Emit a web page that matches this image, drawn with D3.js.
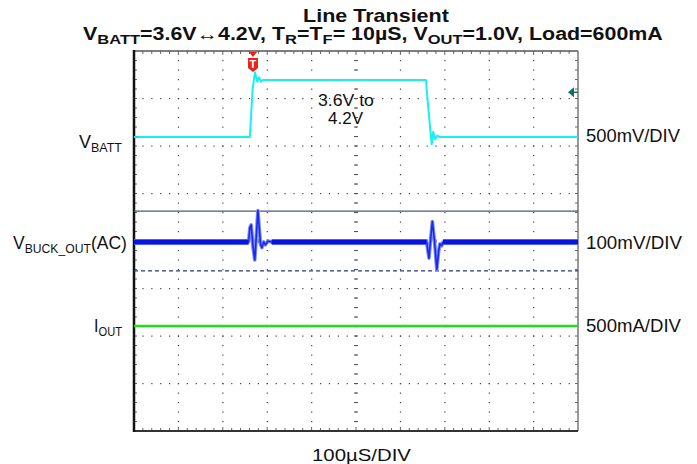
<!DOCTYPE html>
<html><head><meta charset="utf-8">
<script src="https://cdn.jsdelivr.net/npm/d3@7"></script>
<style>body{margin:0;background:#fff}svg{display:block}text{font-family:"Liberation Sans",Arial,sans-serif;fill:#111}</style>
</head><body>
<script>
// ---- data (time in µs, 100 µs/div) ----
const timeDomain = [0, 1000];
// V_BATT (V) 500 mV/div
const vbattT = [0, 100, 200, 261, 264, 267, 270, 272.5, 275, 277.7, 280, 282, 284, 286, 290, 295, 400, 500, 600, 657.6, 662, 666.7, 670.5, 674, 678, 683, 688, 695, 800, 900, 1000];
const vbattV = [3.6, 3.6, 3.6, 3.6, 3.85, 4.095, 4.2, 4.281, 4.23, 4.182, 4.21, 4.228, 4.2, 4.182, 4.2, 4.2, 4.2, 4.2, 4.2, 4.2, 3.95, 3.708, 3.523, 3.656, 3.576, 3.614, 3.6, 3.6, 3.6, 3.6, 3.6];
// V_BUCK_OUT AC (mV) 100 mV/div
const vbuckT = [0, 100, 200, 258, 261, 264, 268, 272, 276, 279, 282, 285, 288, 292, 296, 302, 310, 400, 500, 600, 659, 664.4, 668, 672, 677, 682, 686, 689, 693, 696, 800, 900, 1000];
const vbuckV = [0, 0, 0, 0, 30, 36, -10, -38, 20, 66, 30, -5, -12, 0, -6, 2, 0, 0, 0, 0, 0, -34, 5, 43, 0, -58, -20, -4, -8, 0, 0, 0, 0];
// I_OUT (mA) 500 mA/div
const ioutT = [0, 250, 500, 750, 1000];
const ioutV = [600, 600, 600, 600, 600];
// cursors on V_BUCK_OUT (mV)
const cursorSolid = 65;
const cursorDashed = -61;
const triggerTime = 268;     // µs
const triggerLevel = 4.07;   // V on V_BATT
// labels
const titleText = "Line Transient";
const chLabels = [["V","BATT",""],["V","BUCK_OUT","(AC)"],["I","OUT",""]];
const scaleLabels = ["500mV/DIV", "100mV/DIV", "500mA/DIV"];
const timeLabel = "100µS/DIV";
const noteLines = ["3.6V to", "4.2V"];

// ---- layout ----
const W = 697, H = 464;
const L = 134, R = 578, T = 51, B = 431;
const svg = d3.select("body").append("svg").attr("width", W).attr("height", H);

const x = d3.scaleLinear().domain(timeDomain).range([L, R]);
const yDiv = d3.scaleLinear().domain([0, 8]).range([B, T]);
function chScale(refVal, refDiv, perDiv) {
  return d3.scaleLinear().domain([refVal - refDiv * perDiv, refVal + (8 - refDiv) * perDiv]).range([B, T]);
}
const yBatt = chScale(3.6, 6.19, 0.5);
const yBuck = chScale(0, 3.98, 100);
const yIout = chScale(600, 2.21, 500);

const g = svg.append("g");
const xDivs = d3.range(0, 11).map(i => L + i * (R - L) / 10);
const yDivs = d3.range(0, 9).map(i => yDiv(i));
const mx = (R - L) / 50, my = (B - T) / 40;

// dotted grid lines
for (let i = 1; i < 10; i++) {
  for (let k = 1; k < 40; k++) {
    g.append("rect").attr("x", xDivs[i] - 0.5).attr("y", T + k * my - 0.5).attr("width", 1.2).attr("height", 1.2).attr("fill", "#444");
  }
}
for (let j = 1; j < 8; j++) {
  for (let k = 1; k < 50; k++) {
    g.append("rect").attr("x", L + k * mx - 0.5).attr("y", yDivs[j] - 0.5).attr("width", 1.2).attr("height", 1.2).attr("fill", "#444");
  }
}
// centre axes ticks
const cx = xDivs[5], cy = yDiv(4);
for (let k = 1; k < 50; k++) g.append("line").attr("x1", L + k * mx).attr("x2", L + k * mx).attr("y1", cy - 2).attr("y2", cy + 2).attr("stroke", "#555").attr("stroke-width", 1);
for (let k = 1; k < 40; k++) g.append("line").attr("y1", T + k * my).attr("y2", T + k * my).attr("x1", cx - 2).attr("x2", cx + 2).attr("stroke", "#555").attr("stroke-width", 1);
// border ticks
for (let k = 1; k < 50; k++) {
  const xx = L + k * mx, len = (k % 5 === 0) ? 4 : 3;
  g.append("line").attr("x1", xx).attr("x2", xx).attr("y1", T).attr("y2", T + len).attr("stroke", "#666");
  g.append("line").attr("x1", xx).attr("x2", xx).attr("y1", B).attr("y2", B - len).attr("stroke", "#666");
}
for (let k = 1; k < 40; k++) {
  const yy = T + k * my;
  g.append("line").attr("x1", L).attr("x2", L + 3).attr("y1", yy).attr("y2", yy).attr("stroke", "#666");
  g.append("line").attr("x1", R).attr("x2", R - 3).attr("y1", yy).attr("y2", yy).attr("stroke", "#666");
}
// frame
g.append("line").attr("x1", L).attr("x2", R).attr("y1", T).attr("y2", T).attr("stroke", "#555").attr("stroke-width", 1.5);
g.append("line").attr("x1", R).attr("x2", R).attr("y1", T).attr("y2", B).attr("stroke", "#777").attr("stroke-width", 1.5);
g.append("line").attr("x1", L).attr("x2", R).attr("y1", B).attr("y2", B).attr("stroke", "#333").attr("stroke-width", 2);
g.append("line").attr("x1", L).attr("x2", L).attr("y1", T - 1).attr("y2", B + 1).attr("stroke", "#111").attr("stroke-width", 2.5);

// cursors
g.append("line").attr("x1", L).attr("x2", R).attr("y1", yBuck(cursorSolid)).attr("y2", yBuck(cursorSolid)).attr("stroke", "#4a5784").attr("stroke-width", 1.3);
g.append("line").attr("x1", L).attr("x2", R).attr("y1", yBuck(cursorDashed)).attr("y2", yBuck(cursorDashed)).attr("stroke", "#2c3a78").attr("stroke-width", 1.3).attr("stroke-dasharray", "4,3");

// traces
function trace(ts, vs, ys, color, w, halo, defined) {
  const pts = ts.map((t, i) => [t, vs[i]]);
  const line = d3.line().x(d => x(d[0])).y(d => ys(d[1]));
  if (defined) line.defined(defined);
  if (halo) svg.append("path").attr("d", line(pts)).attr("fill", "none").attr("stroke", halo).attr("stroke-width", w + 2).attr("stroke-linejoin", "round");
  svg.append("path").attr("d", line(pts)).attr("fill", "none").attr("stroke", color).attr("stroke-width", w).attr("stroke-linejoin", "round");
}
trace(ioutT, ioutV, yIout, "#1ee01e", 2.5, null);
// V_BUCK: thin full trace plus thick noise band on the quiet parts
trace(vbuckT, vbuckV, yBuck, "#1a28f0", 1.6, "#7c8cf6");
trace(vbuckT, vbuckV, yBuck, "#0a14e0", 4, "#4d60f2", d => d[1] === 0);
trace(vbattT, vbattV, yBatt, "#18f0f0", 2, null);

// left channel markers
[[yBatt(3.6), "#18d8e0"], [yBuck(0), "#0a14e6"], [yIout(600), "#1ee01e"]].forEach(([yy, c]) => {
  svg.append("line").attr("x1", L + 1).attr("x2", L + 5).attr("y1", yy).attr("y2", yy).attr("stroke", c).attr("stroke-width", 2);
});

// trigger marker
const tx = x(triggerTime);
svg.append("path").attr("d", `M${tx - 4},${T + 1}L${tx + 4},${T + 1}L${tx},${T + 6}Z`).attr("fill", "#e8231a");
svg.append("path").attr("d", `M${tx - 5},${T + 7}L${tx + 5},${T + 7}L${tx + 5},${T + 17}L${tx},${T + 21}L${tx - 5},${T + 17}Z`).attr("fill", "#e8231a");
svg.append("text").attr("x", tx).attr("y", T + 17).attr("text-anchor", "middle").attr("font-size", 11).attr("font-weight", "bold").style("fill", "#fff").text("T");
// trigger level marker
const ty = yBatt(triggerLevel);
svg.append("path").attr("d", `M${R - 10},${ty}L${R - 4},${ty - 5}L${R - 4},${ty + 5}Z`).attr("fill", "#136c6c");
svg.append("line").attr("x1", R - 5).attr("x2", R).attr("y1", ty).attr("y2", ty).attr("stroke", "#136c6c").attr("stroke-width", 1.5);

// ---- text helper: fit to measured extent ----
function fitText(parts, x0, x1, baseline, size, bold, subSize) {
  const t = svg.append("text").attr("transform", `translate(${x0},${baseline})`).attr("font-size", size).attr("font-weight", bold ? "bold" : "normal");
  let shifted = false;
  parts.forEach(p => {
    const sp = t.append("tspan").text(p.s);
    if (p.sub && !shifted) { sp.attr("dy", 4).attr("font-size", subSize); shifted = true; }
    else if (p.sub) { sp.attr("font-size", subSize); }
    else if (!p.sub && shifted) { sp.attr("dy", -4); shifted = false; }
  });
  const w = t.node().getComputedTextLength();
  t.attr("transform", `translate(${x0},${baseline}) scale(${(x1 - x0) / w},1)`);
  return t;
}
fitText([{s: titleText}], 303, 449, 22, 18.5, true);
fitText([{s:"V"},{s:"BATT",sub:1},{s:"=3.6V↔4.2V, T"},{s:"R",sub:1},{s:"=T"},{s:"F",sub:1},{s:"= 10µS, V"},{s:"OUT",sub:1},{s:"=1.0V, Load=600mA"}], 83, 663, 40, 17.5, true, 13.5);

const lblPos = [[79, 122, 148], [13, 127, 249], [94, 122, 332]];
chLabels.forEach((c, i) => {
  const parts = [{s: c[0]}, {s: c[1], sub: 1}];
  if (c[2]) parts.push({s: c[2]});
  fitText(parts, lblPos[i][0], lblPos[i][1], lblPos[i][2], 18, false, 12.5);
});
const sclPos = [[586, 680, 142], [586, 682, 249], [586, 681, 332]];
scaleLabels.forEach((s, i) => fitText([{s}], sclPos[i][0], sclPos[i][1], sclPos[i][2], 18, false));
fitText([{s: noteLines[0]}], 318, 374, 106, 16.5, false);
fitText([{s: noteLines[1]}], 328, 363, 124, 16.5, false);
fitText([{s: timeLabel}], 312, 411, 461, 17, false);
</script>
</body></html>
